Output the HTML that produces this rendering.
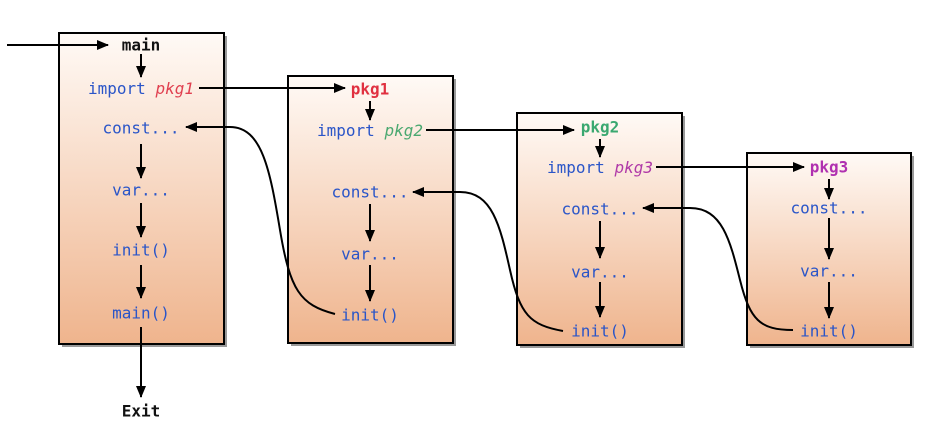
<!DOCTYPE html>
<html><head><meta charset="utf-8"><style>
html,body{margin:0;padding:0;background:#fff;}
svg{display:block}
svg text{font-family:"DejaVu Sans Mono","Liberation Mono",monospace;font-size:16px;}
.b{fill:#2a55c8}
</style></head><body>
<svg width="926" height="429" viewBox="0 0 926 429" xmlns="http://www.w3.org/2000/svg">
<defs>
<linearGradient id="g" x1="0" y1="0" x2="0" y2="1">
<stop offset="0" stop-color="#fffaf6"/>
<stop offset="1" stop-color="#efb48d"/>
</linearGradient>
<marker id="a" markerWidth="12" markerHeight="10" refX="11" refY="5" orient="auto" markerUnits="userSpaceOnUse">
<path d="M0,0 L12,5 L0,10 z" fill="#000"/>
</marker>
</defs>
<g fill="#555" opacity="0.6">
<rect x="62" y="36" width="165" height="311"/>
<rect x="291" y="79" width="165" height="267"/>
<rect x="520" y="116" width="165" height="232"/>
<rect x="750" y="156" width="164" height="192"/>
</g>
<g stroke="#000" stroke-width="2" fill="url(#g)">
<rect x="59" y="33" width="165" height="311"/>
<rect x="288" y="76" width="165" height="267"/>
<rect x="517" y="113" width="165" height="232"/>
<rect x="747" y="153" width="164" height="192"/>
</g>
<g text-anchor="middle" dominant-baseline="central">
<text x="141" y="45" font-weight="bold" fill="#111">main</text>
<text x="141" y="88"><tspan class="b">import</tspan> <tspan fill="#e04050" font-style="italic">pkg1</tspan></text>
<text x="141" y="128" class="b">const...</text>
<text x="141" y="190" class="b">var...</text>
<text x="141" y="250" class="b">init()</text>
<text x="141" y="313" class="b">main()</text>
<text x="141" y="411" font-weight="bold" fill="#111">Exit</text>

<text x="370" y="89" font-weight="bold" fill="#e03040">pkg1</text>
<text x="370" y="130"><tspan class="b">import</tspan> <tspan fill="#4aa870" font-style="italic">pkg2</tspan></text>
<text x="370" y="192" class="b">const...</text>
<text x="370" y="254" class="b">var...</text>
<text x="370" y="315" class="b">init()</text>

<text x="600" y="127" font-weight="bold" fill="#3aa870">pkg2</text>
<text x="600" y="167"><tspan class="b">import</tspan> <tspan fill="#b03aa8" font-style="italic">pkg3</tspan></text>
<text x="600" y="209" class="b">const...</text>
<text x="600" y="272" class="b">var...</text>
<text x="600" y="331" class="b">init()</text>

<text x="829" y="167" font-weight="bold" fill="#b030b0">pkg3</text>
<text x="829" y="208" class="b">const...</text>
<text x="829" y="271" class="b">var...</text>
<text x="829" y="331" class="b">init()</text>
</g>
<g stroke="#000" stroke-width="2" fill="none" marker-end="url(#a)">
<line x1="7" y1="45" x2="108" y2="45"/>
<line x1="141" y1="54" x2="141" y2="77"/>
<line x1="141" y1="144" x2="141" y2="178"/>
<line x1="141" y1="203" x2="141" y2="237"/>
<line x1="141" y1="265" x2="141" y2="298"/>
<line x1="141" y1="327" x2="141" y2="397"/>
<line x1="199" y1="88" x2="345" y2="88"/>

<line x1="370" y1="101" x2="370" y2="120"/>
<line x1="370" y1="204" x2="370" y2="241"/>
<line x1="370" y1="265" x2="370" y2="301"/>
<line x1="426" y1="130" x2="574" y2="130"/>

<line x1="600" y1="139" x2="600" y2="157"/>
<line x1="600" y1="221" x2="600" y2="258"/>
<line x1="600" y1="282" x2="600" y2="317"/>
<line x1="656" y1="167" x2="804" y2="167"/>

<line x1="829" y1="179" x2="829" y2="199"/>
<line x1="829" y1="218" x2="829" y2="259"/>
<line x1="829" y1="282" x2="829" y2="318"/>

<path d="M335,314 C300,305 290,290 280,230 C270,170 262,127 230,127 L186,127"/>
<path d="M563,331 C530,325 520,315 510,270 C500,225 492,192 460,192 L413,192"/>
<path d="M793,330 C760,330 750,320 740,280 C730,240 722,208 690,208 L643,208"/>
</g>
</svg>
</body></html>
